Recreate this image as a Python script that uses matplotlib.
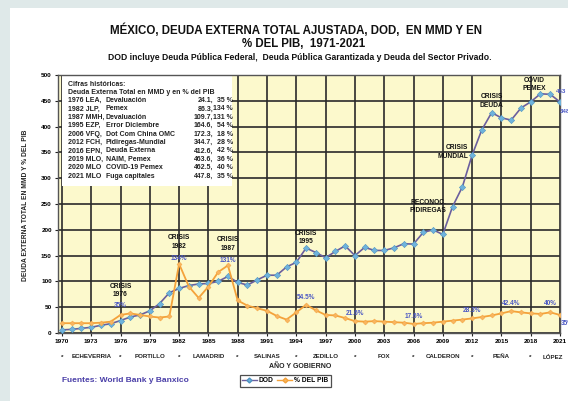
import numpy as np
import matplotlib
matplotlib.use("Agg")
import matplotlib.pyplot as plt
from matplotlib.patches import Rectangle
from matplotlib.lines import Line2D
import matplotlib.transforms as mtransforms

plt.rcParams['font.family'] = ['Liberation Sans', 'DejaVu Sans']
plt.rcParams['font.weight'] = 'bold'

# datos: deuda externa total (MMD) y % del PIB
years = np.arange(1970, 2022)
dod = [6, 7, 9, 11, 15, 18, 24.1, 31, 35, 43,
       57, 78, 86.3, 92, 95, 96, 100, 109.7, 98, 93,
       103, 112, 112, 128, 137, 164.6, 156, 146, 158, 169,
       150, 166, 160, 160, 165, 173, 172.3, 195, 200, 191,
       245, 283, 344.7, 394, 427, 417, 412.6, 436, 448, 463.6,
       462.5, 447.8]
pib = [19, 19, 19, 19, 20, 22, 35, 38, 35, 32,
       30, 32, 134, 90, 68, 90, 118, 131, 63, 53,
       48, 43, 33, 26, 40, 54.5, 44, 35, 34, 29,
       23, 22, 23, 22, 21, 20, 17.6, 19, 20, 22,
       24, 26, 28.3, 31, 34, 38, 42.4, 40, 38, 37,
       40, 35]

# gobiernos (año de inicio)
gob_start = [1970, 1976, 1982, 1988, 1994, 2000, 2006, 2012, 2018]
gob_names = ['ECHEVERRIA', 'PORTILLO', 'LAMADRID', 'SALINAS', 'ZEDILLO',
             'FOX', 'CALDERON', 'PEÑA', 'LÓPEZ']

# notas sobre las curvas
crisis_years = [1976, 1982, 1987, 1995, 2010, 2012, 2014, 2019]
crisis_text = ['CRISIS\n1976', 'CRISIS\n1982', 'CRISIS\n1987', 'CRISIS\n1995',
               'RECONOC.\nPIDIREGAS', 'CRISIS\nMUNDIAL', 'CRISIS\nDEUDA', 'COVID\nPEMEX']
pct_years = [1976, 1982, 1987, 1995, 2000, 2006, 2012, 2016, 2020, 2021]
pct_text = ['35%', '134%', '131%', '54.5%', '21.6%', '17.6%', '28.3%', '42.4%', '40%', '35%']

# tabla de cifras históricas
hist_rows = [
    ('1976 LEA,', 'Devaluación', '24.1,', '35 %'),
    ('1982 JLP,', 'Pemex', '86.3,', '134 %'),
    ('1987 MMH,', 'Devaluación', '109.7,', '131 %'),
    ('1995 EZP,', 'Error Diciembre', '164.6,', '54 %'),
    ('2006 VFQ,', 'Dot Com China OMC', '172.3,', '18 %'),
    ('2012 FCH,', 'Pidiregas-Mundial', '344.7,', '28 %'),
    ('2016 EPN,', 'Deuda Externa', '412.6,', '42 %'),
    ('2019 MLO,', 'NAIM, Pemex', '463.6,', '36 %'),
    ('2020 MLO', 'COVID-19 Pemex', '462.5,', '40 %'),
    ('2021 MLO', 'Fuga capitales', '447.8,', '35 %'),
]

W, H = 568, 401
def fx(x):
    return x / W
def fy(y):
    return 1 - y / H

blue_line = '#6b5f9e'
blue_mk = '#6fb3dc'
orange = '#f4a23a'
lbl_blue = '#4b58c4'
dark = '#222222'

fig = plt.figure(figsize=(W / 100, H / 100), dpi=100)
fig.patch.set_facecolor('white')
fig.add_artist(Rectangle((0, 0), fx(10), 1, transform=fig.transFigure,
                         facecolor='#dfe9e9', edgecolor='none'))
fig.add_artist(Rectangle((0, fy(8)), 1, 8 / H, transform=fig.transFigure,
                         facecolor='#dfe9e9', edgecolor='none'))

ax = fig.add_axes([fx(58), fy(333), fx(560) - fx(58), fy(75) - fy(333)])
ax.set_facecolor('#fcf9cc')
ax.set_xlim(1969.6, 2021.0)
ax.set_ylim(0, 500)
ax.set_xticks(np.arange(1970, 2022, 3))
ax.set_yticks(np.arange(0, 501, 50))
ax.tick_params(axis='both', labelsize=4.6, length=2.5, width=0.8, color=dark, pad=2)
ax.grid(True, color='#2a2a2a', lw=1.2)
ax.set_axisbelow(True)
for s in ax.spines.values():
    s.set_color('#555555')
    s.set_linewidth(1)

# caja blanca de cifras
ax.add_patch(Rectangle((1970.0, 284), 17.4, 214, facecolor='white',
                       edgecolor='none', zorder=1.5))

ax.plot(years, dod, color=blue_line, lw=1.2, marker='D', ms=3.2,
        mfc=blue_mk, mec='#4e93c0', mew=0.4, zorder=3, label='DOD')
ax.plot(years, pib, color=orange, lw=1.3, marker='D', ms=2.6,
        mfc='#f8b560', mec=orange, mew=0.3, zorder=3, label='% DEL PIB')

# notas de crisis: (desplazamiento x en años, y en puntos, alineación)
crisis_pos = [(0, 12, 'center', 'bottom'), (0, 10, 'center', 'bottom'),
              (0, 10, 'center', 'bottom'), (0, 2, 'center', 'bottom'),
              (-0.6, 0, 'right', 'center'), (-0.4, 2, 'right', 'center'),
              (0, 3, 'center', 'bottom'), (-0.6, 1, 'center', 'bottom')]
for yr, txt, (dx, dy, ha, va) in zip(crisis_years, crisis_text, crisis_pos):
    i = yr - 1970
    base = pib[i] if yr in (1976, 1982, 1987) else dod[i]
    ax.annotate(txt, (yr + dx, base), xytext=(0, dy), textcoords='offset points',
                ha=ha, va=va, fontsize=4.8, color='#111111',
                linespacing=1.35, zorder=4, annotation_clip=False)

# etiquetas de % del PIB
pct_dy = [4, 1, 1, 3, 3, 3, 3, 3, 4, -4]
for yr, txt, dy in zip(pct_years, pct_text, pct_dy):
    i = yr - 1970
    ax.annotate(txt, (yr, pib[i]), xytext=(0 if yr != 2021 else 5, dy),
                textcoords='offset points', ha='center',
                va='bottom' if dy > 0 else 'top', fontsize=4.7,
                color=lbl_blue, zorder=4, annotation_clip=False)
# valores finales DOD
ax.annotate('463', (2020, dod[-2]), xytext=(4, 2), textcoords='offset points',
            ha='left', va='center', fontsize=4.5, color=lbl_blue, annotation_clip=False)
ax.annotate('348', (2021, dod[-1]), xytext=(0, -7), textcoords='offset points',
            ha='left', va='center', fontsize=4.5, color=lbl_blue, annotation_clip=False)

# texto de la tabla
fig.text(fx(68), fy(84), 'Cifras históricas:', fontsize=5, color=dark, va='center')
fig.text(fx(68), fy(92.5), 'Deuda Externa Total en MMD y en % del PIB', fontsize=5,
         color=dark, va='center')
for k, (a, b, c, d) in enumerate(hist_rows):
    yy = fy(100.5 + k * 8.4)
    fig.text(fx(68), yy, a, fontsize=5, color=dark, va='center')
    fig.text(fx(106), yy, b, fontsize=5, color=dark, va='center')
    fig.text(fx(213), yy, c, fontsize=5, color=dark, va='center', ha='right')
    fig.text(fx(233), yy, d, fontsize=5, color=dark, va='center', ha='right')

# fila de gobiernos
blend = mtransforms.blended_transform_factory(ax.transData, fig.transFigure)
ends = gob_start[1:] + [2022.5]
for st, en, name in zip(gob_start, ends, gob_names):
    ax.text(st, fy(357), '*', transform=blend, ha='center', va='center',
            fontsize=4.6, color=dark, clip_on=False)
    ax.text((st + en) / 2, fy(357), name, transform=blend, ha='center', va='center',
            fontsize=4.4, color=dark, clip_on=False)

fig.text(fx(300), fy(367), 'AÑO Y GOBIERNO', fontsize=5, color=dark, ha='center', va='center')
fig.text(fx(26), fy(205), 'DEUDA EXTERNA TOTAL EN MMD Y % DEL PIB', fontsize=4.8,
         color=dark, rotation=90, ha='center', va='center')

# títulos
fig.text(fx(296), fy(30), 'MÉXICO, DEUDA EXTERNA TOTAL AJUSTADA, DOD,  EN MMD Y EN',
         fontsize=8.3, color='#111111', ha='center', va='center')
fig.text(fx(304), fy(44), '% DEL PIB,  1971-2021', fontsize=8.3, color='#111111',
         ha='center', va='center')
fig.text(fx(300), fy(57), 'DOD incluye Deuda Pública Federal,  Deuda Pública Garantizada '
         'y Deuda del Sector Privado.', fontsize=6.2, color='#111111', ha='center', va='center')

fig.text(fx(62), fy(380), 'Fuentes: World Bank y Banxico', fontsize=6, color='#4a3fa8',
         ha='left', va='center')

# leyenda
handles = [Line2D([], [], color=blue_line, lw=1, marker='D', ms=2.5, mfc=blue_mk, mec='#4e93c0'),
           Line2D([], [], color=orange, lw=1, marker='D', ms=2.5, mfc='#f8b560', mec=orange)]
leg = fig.legend(handles, ['DOD', '% DEL PIB'], loc='center', bbox_to_anchor=(fx(285), fy(381)),
                 ncol=2, fontsize=4.8, frameon=True, fancybox=False, handlelength=2.2,
                 handletextpad=0.3, columnspacing=0.6, borderpad=0.35, edgecolor='#222222')
leg.get_frame().set_linewidth(0.9)

fig.savefig('out.png', dpi=100)
